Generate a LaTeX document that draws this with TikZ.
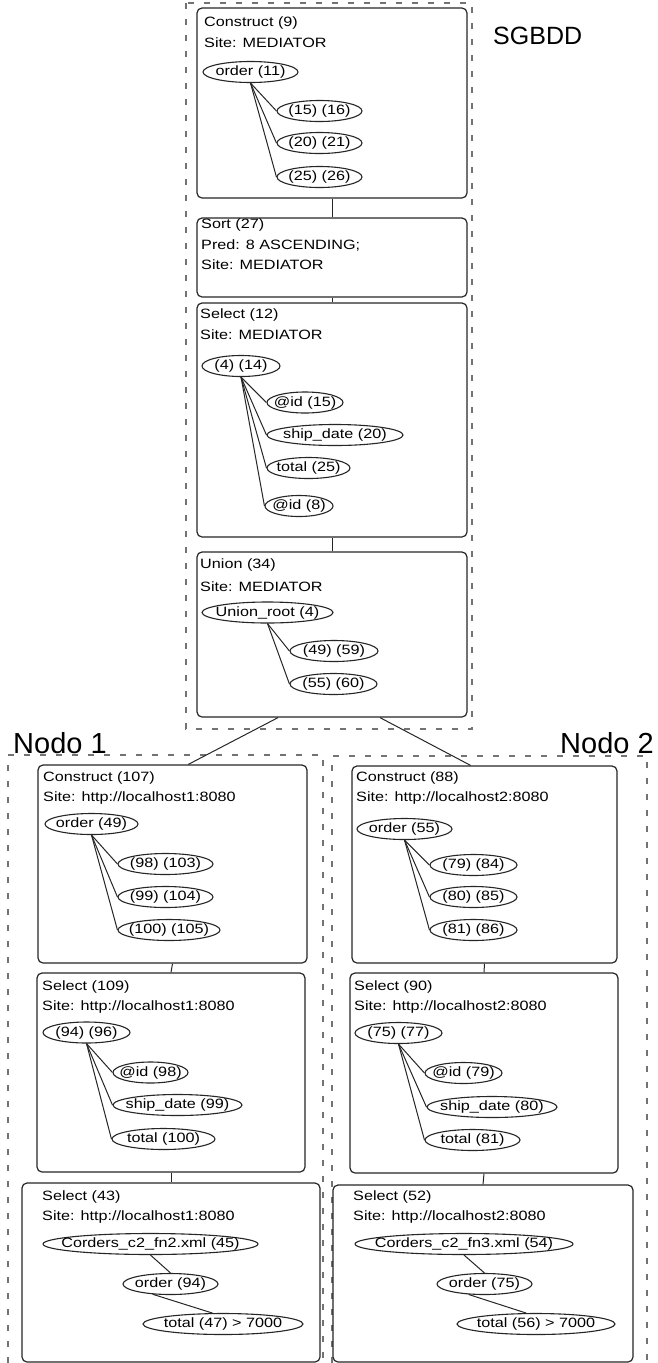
\documentclass[tikz,border=0pt]{standalone}
\usepackage{fontspec}
\usetikzlibrary{shapes.geometric}
\newfontfamily\dfont[FakeStretch=1.2]{Liberation Sans}
\newfontfamily\lfont{Liberation Sans}
\newcommand\myell[5]{\node[ell, minimum width=#4pt] (#1) at (#2,#3) {\makebox[0pt]{#5}};}
\begin{document}
\begin{tikzpicture}[x=1pt,y=-1pt,
  opbox/.style={draw=black!85, line width=1.2pt, rounded corners=5pt, fill=white, inner sep=0pt},
  lbl/.style={anchor=west, inner sep=0pt, font=\dfont\fontsize{13.5}{16}\selectfont, text=black},
  ell/.style={draw=black!85, line width=1.1pt, ellipse, inner sep=0pt, minimum height=21pt, fill=white, font=\dfont\fontsize{13.5}{16}\selectfont, text=black},
  tl/.style={draw=black!85, line width=1pt},
  region/.style={draw=black!55, line width=1.2pt, dash pattern=on 6pt off 10pt},
  biglbl/.style={anchor=base west, inner sep=0pt, font=\lfont\fontsize{29}{32}\selectfont, text=black}
]
\useasboundingbox (0,0) rectangle (657,1363);

% regions
\draw[region] (186,3) rectangle (472,729);
\draw[region] (8,1363) -- (8,755) -- (323,755) -- (323,1363);
\draw[region] (332,1363) -- (332,756) -- (647,756) -- (647,1363);

% SGBDD boxes
\node[opbox, minimum width=270pt, minimum height=190pt] (c9) at (332,103) {};
\node[opbox, minimum width=270pt, minimum height=79pt] (sort) at (332,257.5) {};
\node[opbox, minimum width=270pt, minimum height=234pt] (sel12) at (332,420) {};
\node[opbox, minimum width=270pt, minimum height=165pt] (union) at (332,634.5) {};

% Nodo 1 boxes
\node[opbox, minimum width=269pt, minimum height=198pt] (c107) at (172.5,864) {};
\node[opbox, minimum width=268pt, minimum height=199pt] (s109) at (171,1072.5) {};
\node[opbox, minimum width=298pt, minimum height=179pt] (s43) at (171,1272.5) {};

% Nodo 2 boxes
\node[opbox, minimum width=265pt, minimum height=197pt] (c88) at (484.5,864.5) {};
\node[opbox, minimum width=268pt, minimum height=200pt] (s90) at (484,1073) {};
\node[opbox, minimum width=300pt, minimum height=177pt] (s52) at (483,1273.5) {};

% box connectors
\draw[tl] (c9.south) -- (sort.north);
\draw[tl] (sort.south) -- (sel12.north);
\draw[tl] (sel12.south) -- (union.north);
\draw[tl] (union.237.8) -- (c107.81.7);
\draw[tl] (union.300.2) -- (c88.98.3);
\draw[tl] (c107.south) -- (s109.north);
\draw[tl] (s109.south) -- (s43.north);
\draw[tl] (c88.south) -- (s90.north);
\draw[tl] (s90.south) -- (s52.north);

% labels
\node[anchor=west, inner sep=0pt, font=\lfont\fontsize{25}{28}\selectfont] (sgbdd) at (493,36) {SGBDD};
\node[biglbl] (nodo1) at (13,753) {Nodo 1};
\node[biglbl] (nodo2) at (560,753) {Nodo 2};

% box texts
\node[lbl] (t9a) at (204,23) {Construct (9)};
\node[lbl] (t9b) at (204,43) {Site: MEDIATOR};
\node[lbl] (t27a) at (201,225) {Sort (27)};
\node[lbl] (t27b) at (201,245) {Pred: 8 ASCENDING;};
\node[lbl] (t27c) at (201,265) {Site: MEDIATOR};
\node[lbl] (t12a) at (200,315) {Select (12)};
\node[lbl] (t12b) at (200,335) {Site: MEDIATOR};
\node[lbl] (t34a) at (200,565) {Union (34)};
\node[lbl] (t34b) at (200,587) {Site: MEDIATOR};

\node[lbl] (t107a) at (43,778) {Construct (107)};
\node[lbl] (t107b) at (43,798) {Site: http://localhost1:8080};
\node[lbl] (t109a) at (42,987) {Select (109)};
\node[lbl] (t109b) at (42,1007) {Site: http://localhost1:8080};
\node[lbl] (t43a) at (42,1197) {Select (43)};
\node[lbl] (t43b) at (42,1217) {Site: http://localhost1:8080};

\node[lbl] (t88a) at (356,778) {Construct (88)};
\node[lbl] (t88b) at (356,798) {Site: http://localhost2:8080};
\node[lbl] (t90a) at (354,987) {Select (90)};
\node[lbl] (t90b) at (354,1007) {Site: http://localhost2:8080};
\node[lbl] (t52a) at (353,1197) {Select (52)};
\node[lbl] (t52b) at (353,1217) {Site: http://localhost2:8080};

% ellipses SGBDD
\myell{e11}{250.5}{72}{95}{order (11)}
\myell{e15}{319.5}{111}{85}{(15) (16)}
\myell{e20}{319.5}{143}{85}{(20) (21)}
\myell{e25}{319.5}{177}{85}{(25) (26)}
\draw[tl] (e11.south) -- (e15.west);
\draw[tl] (e11.south) -- (e20.west);
\draw[tl] (e11.south) -- (e25.west);

\myell{e4}{241}{366}{78}{(4) (14)}
\myell{eid15}{305}{402.5}{76}{@id (15)}
\myell{esh20}{335}{435}{136}{ship\_date (20)}
\myell{eto25}{308.5}{468}{83}{total (25)}
\myell{eid8}{299}{506}{68}{@id (8)}
\draw[tl] (e4.south) -- (eid15.west);
\draw[tl] (e4.south) -- (esh20.west);
\draw[tl] (e4.south) -- (eto25.west);
\draw[tl] (e4.south) -- (eid8.west);

\myell{eur}{267.5}{612.5}{131}{Union\_root (4)}
\myell{e49}{334}{651}{88}{(49) (59)}
\myell{e55}{333.5}{684}{87}{(55) (60)}
\draw[tl] (eur.south) -- (e49.west);
\draw[tl] (eur.south) -- (e55.west);

% ellipses Nodo 1
\myell{eo49}{91.5}{824}{93}{order (49)}
\myell{e98}{165.5}{864}{95}{(98) (103)}
\myell{e99}{165.5}{897}{95}{(99) (104)}
\myell{e100}{169}{930}{102}{(100) (105)}
\draw[tl] (eo49.south) -- (e98.west);
\draw[tl] (eo49.south) -- (e99.west);
\draw[tl] (eo49.south) -- (e100.west);

\myell{e94}{86.5}{1032.5}{87}{(94) (96)}
\myell{eid98}{150.5}{1072.5}{75}{@id (98)}
\myell{esh99}{177.5}{1105}{129}{ship\_date (99)}
\myell{eto100}{163.5}{1139}{103}{total (100)}
\draw[tl] (e94.south) -- (eid98.west);
\draw[tl] (e94.south) -- (esh99.west);
\draw[tl] (e94.south) -- (eto100.west);

\myell{ex45}{150.5}{1244}{215}{Corders\_c2\_fn2.xml (45)}
\myell{eo94}{170.5}{1284}{95}{order (94)}
\myell{et47}{223}{1324}{160}{total (47) > 7000}
\draw[tl] (ex45.south) -- (eo94.north);
\draw[tl] (eo94.210) -- (et47.134);

% ellipses Nodo 2
\myell{eo55}{404.5}{829}{95}{order (55)}
\myell{e79}{473.5}{865}{87}{(79) (84)}
\myell{e80}{473.5}{897}{87}{(80) (85)}
\myell{e81}{473.5}{930}{87}{(81) (86)}
\draw[tl] (eo55.south) -- (e79.west);
\draw[tl] (eo55.south) -- (e80.west);
\draw[tl] (eo55.south) -- (e81.west);

\myell{e75}{398.5}{1033}{87}{(75) (77)}
\myell{eid79}{463.5}{1073}{77}{@id (79)}
\myell{esh80}{492}{1107}{130}{ship\_date (80)}
\myell{eto81}{472.5}{1140}{95}{total (81)}
\draw[tl] (e75.south) -- (eid79.west);
\draw[tl] (e75.south) -- (esh80.west);
\draw[tl] (e75.south) -- (eto81.west);

\myell{ex54}{464}{1244}{218}{Corders\_c2\_fn3.xml (54)}
\myell{eo75}{484.5}{1284}{95}{order (75)}
\myell{et56}{536}{1324}{158}{total (56) > 7000}
\draw[tl] (ex54.south) -- (eo75.north);
\draw[tl] (eo75.213) -- (et56.132);
\end{tikzpicture}
\end{document}
